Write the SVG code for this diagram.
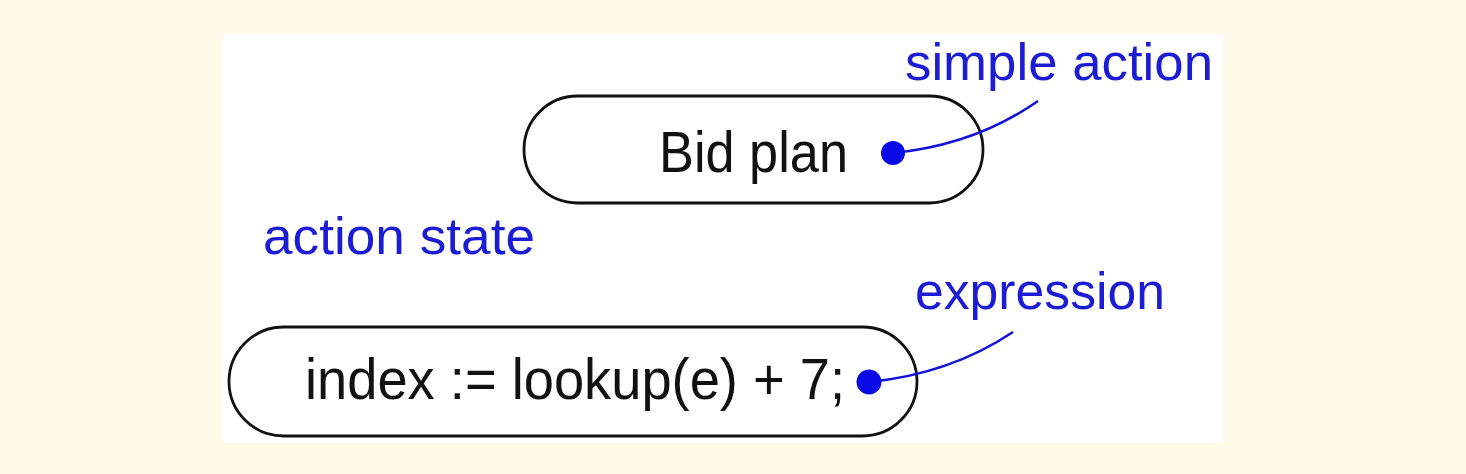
<svg xmlns="http://www.w3.org/2000/svg" width="1466" height="474" viewBox="0 0 1466 474">
  <style>
    .pill { fill: #ffffff; stroke: #111111; stroke-width: 2.8; }
    .label { font-family: "Liberation Sans", Arial, sans-serif; font-size: 58px; fill: #111111; }
    .note { font-family: "Liberation Sans", Arial, sans-serif; font-size: 52px; fill: #1c1cd4; }
    .lead { fill: none; stroke: #1212d8; stroke-width: 2.5; }
    .dot { fill: #0a0ae8; }
  </style>
  <rect x="0" y="0" width="1466" height="474" fill="#fffbe8"/>
  <rect x="223" y="35" width="1000" height="408" fill="#ffffff"/>

  <g id="simple-action-node">
    <rect class="pill" x="524" y="96" width="459" height="107" rx="53.5" ry="53.5"/>
    <text class="label" x="659" y="172" textLength="189" lengthAdjust="spacingAndGlyphs">Bid plan</text>
  </g>

  <g id="expression-node">
    <rect class="pill" x="229" y="327" width="688" height="109" rx="54.5" ry="54.5"/>
    <text class="label" x="305" y="399" textLength="540" lengthAdjust="spacingAndGlyphs">index := lookup(e) + 7;</text>
  </g>

  <g id="annotations">
    <text class="note" x="905" y="80" textLength="308" lengthAdjust="spacingAndGlyphs">simple action</text>
    <text class="note" x="263" y="254" textLength="272" lengthAdjust="spacingAndGlyphs">action state</text>
    <text class="note" x="915" y="309" textLength="250" lengthAdjust="spacingAndGlyphs">expression</text>
  </g>

  <g id="connectors">
    <path class="lead" d="M893,153 Q975,145 1038,101"/>
    <circle class="dot" cx="893" cy="153" r="12"/>
    <path class="lead" d="M869,382 Q950,374 1013,332"/>
    <circle class="dot" cx="869" cy="382" r="12.5"/>
  </g>
</svg>
